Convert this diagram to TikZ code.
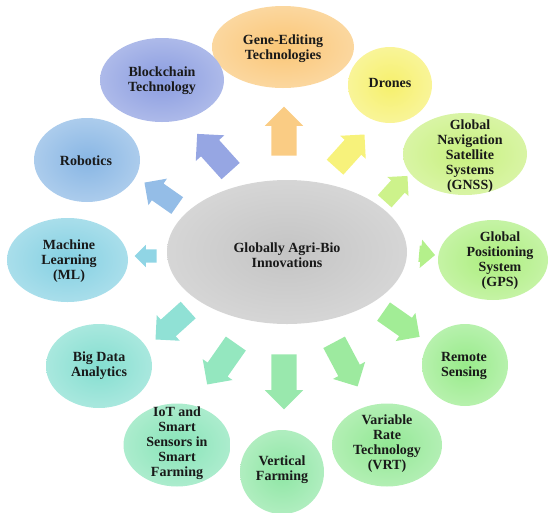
\documentclass[tikz,border=0pt]{standalone}
\usepackage{fontspec}
\setmainfont{Liberation Serif}
\usetikzlibrary{shapes.geometric,shapes.arrows}
\definecolor{cg}{RGB}{196, 196, 196}
\definecolor{c1}{RGB}{250, 198, 118}
\definecolor{c2}{RGB}{246, 240, 108}
\definecolor{c3}{RGB}{200, 240, 126}
\definecolor{c4}{RGB}{172, 238, 126}
\definecolor{c5}{RGB}{152, 235, 138}
\definecolor{c6}{RGB}{146, 232, 148}
\definecolor{c7}{RGB}{142, 230, 164}
\definecolor{c8}{RGB}{136, 228, 184}
\definecolor{c9}{RGB}{132, 222, 208}
\definecolor{c10}{RGB}{132, 208, 226}
\definecolor{c11}{RGB}{136, 182, 228}
\definecolor{c12}{RGB}{138, 156, 224}

\begin{document}
\begin{tikzpicture}[
  bub/.style={ellipse, inner sep=0pt, shading=radial, inner color=#1, outer color=#1!70!white},
  lbl/.style={align=center, inner sep=0pt, font=\bfseries\fontsize{14}{15}\selectfont, text=black!90},
  blk/.style n args={3}{single arrow, inner sep=0pt, text depth=0pt, minimum height=#1, text height=#2, single arrow head extend=#3}
]
\useasboundingbox (0pt, 0pt) rectangle (549pt, -512pt);
% arrows out of the centre
\node (a1) [blk={49pt}{25pt}{6.5pt}, fill=c1!90!white, rotate=90] at (284pt, -137.5pt) {};
\node (a2) [blk={44pt}{22pt}{6pt}, fill=c2!90!white, rotate=48] at (346pt, -155pt) {};
\node (a3) [blk={34pt}{18pt}{5pt}, fill=c3!90!white, rotate=48] at (393pt, -192pt) {};
\node (a4) [blk={16pt}{16pt}{6pt}, fill=c4!90!white, rotate=-5] at (423pt, -254pt) {};
\node (a5) [blk={44pt}{22pt}{6pt}, fill=c5!90!white, rotate=-35] at (397pt, -321pt) {};
\node (a6) [blk={50pt}{24pt}{6pt}, fill=c6!90!white, rotate=-62] at (343pt, -359pt) {};
\node (a7) [blk={55pt}{25pt}{6.5pt}, fill=c7!90!white, rotate=-90] at (284pt, -375.5pt) {};
\node (a8) [blk={50pt}{24pt}{6pt}, fill=c8!90!white, rotate=-125] at (225pt, -359pt) {};
\node (a9) [blk={44pt}{22pt}{6pt}, fill=c9!90!white, rotate=-138] at (176pt, -321pt) {};
\node (a10) [blk={22pt}{13pt}{4.5pt}, fill=c10!90!white, rotate=180] at (149pt, -256pt) {};
\node (a11) [blk={40pt}{20pt}{6pt}, fill=c11!90!white, rotate=145] at (165pt, -197pt) {};
\node (a12) [blk={50pt}{24pt}{7pt}, fill=c12!90!white, rotate=132] at (218pt, -157pt) {};
% bubbles
\node (0) [bub=cg, minimum width=240pt, minimum height=144pt] at (287pt, -252pt) {};
\node (1) [bub=c1, minimum width=142pt, minimum height=82pt] at (283pt, -47pt) {};
\node (2) [bub=c2, minimum width=84pt, minimum height=76pt] at (390pt, -85pt) {};
\node (3) [bub=c3, minimum width=124pt, minimum height=82pt] at (465pt, -154pt) {};
\node (4) [bub=c4, minimum width=110pt, minimum height=80pt] at (493pt, -260pt) {};
\node (5) [bub=c5, minimum width=86pt, minimum height=82pt] at (465pt, -365pt) {};
\node (6) [bub=c6, minimum width=110pt, minimum height=83pt] at (387pt, -445pt) {};
\node (7) [bub=c7, minimum width=84pt, minimum height=84pt] at (282pt, -472pt) {};
\node (8) [bub=c8, minimum width=107pt, minimum height=83pt] at (177pt, -445pt) {};
\node (9) [bub=c9, minimum width=106pt, minimum height=84pt] at (99pt, -366pt) {};
\node (10) [bub=c10, minimum width=121pt, minimum height=84pt] at (67.5pt, -260pt) {};
\node (11) [bub=c11, minimum width=106pt, minimum height=84pt] at (87pt, -160pt) {};
\node (12) [bub=c12, minimum width=124pt, minimum height=84pt] at (162pt, -80pt) {};
% texts
\node (t0) [lbl] at (287pt, -255pt) {Globally Agri-Bio\\Innovations};
\node (t1) [lbl] at (283pt, -49pt) {Gene-Editing\\Technologies};
\node (t2) [lbl] at (390pt, -83pt) {Drones};
\node (t3) [lbl] at (470pt, -156pt) {Global\\Navigation\\Satellite\\Systems\\(GNSS)};
\node (t4) [lbl] at (500pt, -261pt) {Global\\Positioning\\System\\(GPS)};
\node (t5) [lbl] at (464pt, -366pt) {Remote\\Sensing};
\node (t6) [lbl] at (387pt, -444pt) {Variable\\Rate\\Technology\\(VRT)};
\node (t7) [lbl] at (282pt, -470pt) {Vertical\\Farming};
\node (t8) [lbl] at (177pt, -443pt) {IoT and\\Smart\\Sensors in\\Smart\\Farming};
\node (t9) [lbl] at (99pt, -366pt) {Big Data\\Analytics};
\node (t10) [lbl] at (69pt, -261pt) {Machine\\Learning\\(ML)};
\node (t11) [lbl] at (86pt, -161pt) {Robotics};
\node (t12) [lbl] at (162pt, -81pt) {Blockchain\\Technology};
\end{tikzpicture}
\end{document}
